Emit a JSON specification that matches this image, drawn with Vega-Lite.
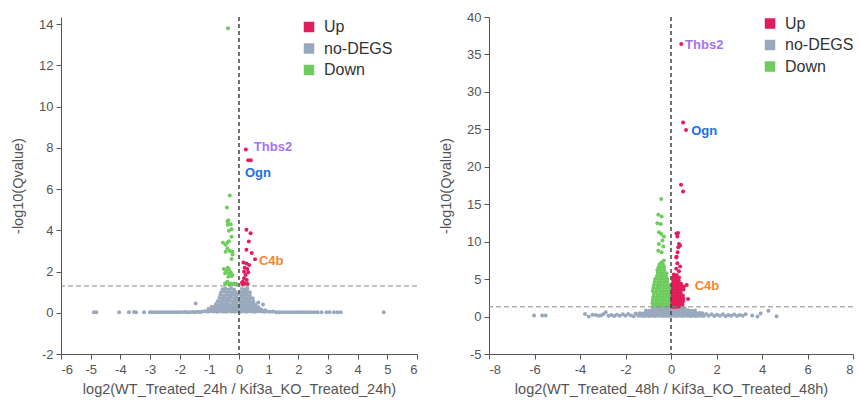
{
  "$schema": "https://vega.github.io/schema/vega-lite/v6.json",
  "padding": {"left": 10, "top": 11, "right": 0, "bottom": 6},
  "spacing": 20,
  "config": {
    "view": {"stroke": null},
    "font": "Liberation Sans",
    "axis": {"grid": false, "labelOverlap": false, "tickCount": 30, "labelExpr": "'' + datum.value", "domainColor": "#555", "tickColor": "#555", "labelColor": "#555", "titleColor": "#555", "labelFontSize": 13, "titleFontSize": 14.5, "titleFontWeight": "normal", "tickSize": 5, "labelFont": "Liberation Sans", "titleFont": "Liberation Sans"},
    "axisX": {"labelPadding": 4, "titlePadding": 6},
    "axisY": {"labelPadding": 3, "titlePadding": 13},
    "legend": {"labelFontSize": 16, "labelColor": "#333", "symbolType": "square", "symbolSize": 110, "labelOffset": 7, "rowPadding": 5.5, "padding": 0, "symbolStrokeWidth": 0, "symbolOpacity": 1, "labelFont": "Liberation Sans"}
  },
  "resolve": {"scale": {"color": "independent"}, "legend": {"color": "independent"}},
  "datasets": {
    "L": [
      {"x":-4.89,"y":0.02,"g":"no-DEGS"},{"x":-4.81,"y":0.02,"g":"no-DEGS"},{"x":-4.04,"y":0.02,"g":"no-DEGS"},{"x":-3.71,"y":0.02,"g":"no-DEGS"},{"x":-3.54,"y":0.04,"g":"no-DEGS"},{"x":-3.47,"y":0.03,"g":"no-DEGS"},{"x":-3.2,"y":0.02,"g":"no-DEGS"},{"x":-3.0,"y":0.02,"g":"no-DEGS"},{"x":-2.92,"y":0.03,"g":"no-DEGS"},{"x":-2.83,"y":0.02,"g":"no-DEGS"},{"x":-2.74,"y":0.03,"g":"no-DEGS"},{"x":-2.65,"y":0.02,"g":"no-DEGS"},{"x":-2.56,"y":0.03,"g":"no-DEGS"},{"x":-2.47,"y":0.02,"g":"no-DEGS"},{"x":-2.38,"y":0.03,"g":"no-DEGS"},{"x":-2.29,"y":0.02,"g":"no-DEGS"},{"x":-2.2,"y":0.03,"g":"no-DEGS"},{"x":-2.11,"y":0.02,"g":"no-DEGS"},{"x":-2.02,"y":0.03,"g":"no-DEGS"},{"x":-1.93,"y":0.02,"g":"no-DEGS"},{"x":-1.84,"y":0.04,"g":"no-DEGS"},{"x":-1.75,"y":0.03,"g":"no-DEGS"},{"x":-1.66,"y":0.02,"g":"no-DEGS"},{"x":-1.57,"y":0.04,"g":"no-DEGS"},{"x":-1.48,"y":0.03,"g":"no-DEGS"},{"x":-1.39,"y":0.05,"g":"no-DEGS"},{"x":-1.32,"y":0.04,"g":"no-DEGS"},{"x":-1.46,"y":0.45,"g":"no-DEGS"},{"x":-0.92,"y":0.29,"g":"no-DEGS"},{"x":-1.03,"y":0.18,"g":"no-DEGS"},
      {"x":1.25,"y":0.03,"g":"no-DEGS"},{"x":1.35,"y":0.02,"g":"no-DEGS"},{"x":1.45,"y":0.03,"g":"no-DEGS"},{"x":1.55,"y":0.02,"g":"no-DEGS"},{"x":1.65,"y":0.03,"g":"no-DEGS"},{"x":1.75,"y":0.02,"g":"no-DEGS"},{"x":1.85,"y":0.03,"g":"no-DEGS"},{"x":1.95,"y":0.02,"g":"no-DEGS"},{"x":2.05,"y":0.03,"g":"no-DEGS"},{"x":2.15,"y":0.02,"g":"no-DEGS"},{"x":2.25,"y":0.03,"g":"no-DEGS"},{"x":2.35,"y":0.02,"g":"no-DEGS"},{"x":2.45,"y":0.03,"g":"no-DEGS"},{"x":2.55,"y":0.02,"g":"no-DEGS"},{"x":2.65,"y":0.03,"g":"no-DEGS"},{"x":2.78,"y":0.02,"g":"no-DEGS"},{"x":2.95,"y":0.02,"g":"no-DEGS"},{"x":3.05,"y":0.02,"g":"no-DEGS"},{"x":3.2,"y":0.02,"g":"no-DEGS"},{"x":3.32,"y":0.02,"g":"no-DEGS"},{"x":3.43,"y":0.02,"g":"no-DEGS"},{"x":4.88,"y":0.02,"g":"no-DEGS"},{"x":0.65,"y":0.5,"g":"no-DEGS"},{"x":0.81,"y":0.4,"g":"no-DEGS"},
      {"x":-0.55,"y":1.14,"g":"no-DEGS"},{"x":-0.46,"y":1.18,"g":"no-DEGS"},{"x":-0.36,"y":1.12,"g":"no-DEGS"},{"x":-0.27,"y":1.17,"g":"no-DEGS"},{"x":-0.17,"y":1.13,"g":"no-DEGS"},
      {"x":-0.6,"y":0.99,"g":"no-DEGS"},{"x":-0.5,"y":1.03,"g":"no-DEGS"},{"x":-0.41,"y":0.98,"g":"no-DEGS"},{"x":-0.31,"y":1.02,"g":"no-DEGS"},{"x":-0.21,"y":0.97,"g":"no-DEGS"},{"x":-0.11,"y":1.01,"g":"no-DEGS"},
      {"x":-0.63,"y":0.86,"g":"no-DEGS"},{"x":-0.53,"y":0.83,"g":"no-DEGS"},{"x":-0.43,"y":0.87,"g":"no-DEGS"},{"x":-0.33,"y":0.84,"g":"no-DEGS"},{"x":-0.23,"y":0.88,"g":"no-DEGS"},{"x":-0.13,"y":0.83,"g":"no-DEGS"},{"x":-0.06,"y":0.9,"g":"no-DEGS"},
      {"x":-0.66,"y":0.71,"g":"no-DEGS"},{"x":-0.56,"y":0.68,"g":"no-DEGS"},{"x":-0.46,"y":0.72,"g":"no-DEGS"},{"x":-0.36,"y":0.69,"g":"no-DEGS"},{"x":-0.26,"y":0.73,"g":"no-DEGS"},{"x":-0.16,"y":0.68,"g":"no-DEGS"},{"x":-0.07,"y":0.72,"g":"no-DEGS"},
      {"x":-0.72,"y":0.56,"g":"no-DEGS"},{"x":-0.62,"y":0.53,"g":"no-DEGS"},{"x":-0.52,"y":0.57,"g":"no-DEGS"},{"x":-0.42,"y":0.54,"g":"no-DEGS"},{"x":-0.32,"y":0.58,"g":"no-DEGS"},{"x":-0.22,"y":0.53,"g":"no-DEGS"},{"x":-0.12,"y":0.57,"g":"no-DEGS"},{"x":-0.05,"y":0.54,"g":"no-DEGS"},
      {"x":-0.78,"y":0.41,"g":"no-DEGS"},{"x":-0.68,"y":0.38,"g":"no-DEGS"},{"x":-0.58,"y":0.42,"g":"no-DEGS"},{"x":-0.48,"y":0.39,"g":"no-DEGS"},{"x":-0.38,"y":0.43,"g":"no-DEGS"},{"x":-0.28,"y":0.38,"g":"no-DEGS"},{"x":-0.18,"y":0.42,"g":"no-DEGS"},{"x":-0.08,"y":0.39,"g":"no-DEGS"},
      {"x":-0.86,"y":0.27,"g":"no-DEGS"},{"x":-0.76,"y":0.25,"g":"no-DEGS"},{"x":-0.66,"y":0.29,"g":"no-DEGS"},{"x":-0.56,"y":0.26,"g":"no-DEGS"},{"x":-0.46,"y":0.28,"g":"no-DEGS"},{"x":-0.36,"y":0.25,"g":"no-DEGS"},{"x":-0.26,"y":0.29,"g":"no-DEGS"},{"x":-0.16,"y":0.26,"g":"no-DEGS"},{"x":-0.07,"y":0.28,"g":"no-DEGS"},
      {"x":-1.02,"y":0.14,"g":"no-DEGS"},{"x":-0.92,"y":0.16,"g":"no-DEGS"},{"x":-0.82,"y":0.13,"g":"no-DEGS"},{"x":-0.72,"y":0.17,"g":"no-DEGS"},{"x":-0.62,"y":0.14,"g":"no-DEGS"},{"x":-0.52,"y":0.16,"g":"no-DEGS"},{"x":-0.42,"y":0.13,"g":"no-DEGS"},{"x":-0.32,"y":0.17,"g":"no-DEGS"},{"x":-0.22,"y":0.14,"g":"no-DEGS"},{"x":-0.12,"y":0.16,"g":"no-DEGS"},{"x":-0.05,"y":0.13,"g":"no-DEGS"},
      {"x":-1.25,"y":0.05,"g":"no-DEGS"},{"x":-1.15,"y":0.07,"g":"no-DEGS"},{"x":-1.05,"y":0.05,"g":"no-DEGS"},{"x":-0.95,"y":0.07,"g":"no-DEGS"},{"x":-0.85,"y":0.06,"g":"no-DEGS"},{"x":-0.75,"y":0.05,"g":"no-DEGS"},{"x":-0.65,"y":0.07,"g":"no-DEGS"},{"x":-0.55,"y":0.06,"g":"no-DEGS"},{"x":-0.45,"y":0.05,"g":"no-DEGS"},{"x":-0.35,"y":0.07,"g":"no-DEGS"},{"x":-0.25,"y":0.06,"g":"no-DEGS"},{"x":-0.15,"y":0.05,"g":"no-DEGS"},{"x":-0.06,"y":0.07,"g":"no-DEGS"},
      {"x":0.1,"y":1.16,"g":"no-DEGS"},{"x":0.19,"y":1.13,"g":"no-DEGS"},{"x":0.28,"y":1.18,"g":"no-DEGS"},
      {"x":0.08,"y":1.01,"g":"no-DEGS"},{"x":0.17,"y":0.98,"g":"no-DEGS"},{"x":0.27,"y":1.03,"g":"no-DEGS"},{"x":0.37,"y":0.99,"g":"no-DEGS"},
      {"x":0.07,"y":0.86,"g":"no-DEGS"},{"x":0.16,"y":0.83,"g":"no-DEGS"},{"x":0.26,"y":0.87,"g":"no-DEGS"},{"x":0.36,"y":0.84,"g":"no-DEGS"},
      {"x":0.07,"y":0.71,"g":"no-DEGS"},{"x":0.17,"y":0.68,"g":"no-DEGS"},{"x":0.27,"y":0.72,"g":"no-DEGS"},{"x":0.37,"y":0.69,"g":"no-DEGS"},{"x":0.46,"y":0.7,"g":"no-DEGS"},
      {"x":0.06,"y":0.56,"g":"no-DEGS"},{"x":0.16,"y":0.53,"g":"no-DEGS"},{"x":0.26,"y":0.57,"g":"no-DEGS"},{"x":0.36,"y":0.54,"g":"no-DEGS"},{"x":0.48,"y":0.55,"g":"no-DEGS"},
      {"x":0.06,"y":0.41,"g":"no-DEGS"},{"x":0.16,"y":0.38,"g":"no-DEGS"},{"x":0.26,"y":0.42,"g":"no-DEGS"},{"x":0.36,"y":0.39,"g":"no-DEGS"},{"x":0.46,"y":0.42,"g":"no-DEGS"},{"x":0.56,"y":0.39,"g":"no-DEGS"},
      {"x":0.06,"y":0.27,"g":"no-DEGS"},{"x":0.16,"y":0.25,"g":"no-DEGS"},{"x":0.26,"y":0.29,"g":"no-DEGS"},{"x":0.36,"y":0.26,"g":"no-DEGS"},{"x":0.46,"y":0.28,"g":"no-DEGS"},{"x":0.56,"y":0.25,"g":"no-DEGS"},{"x":0.66,"y":0.27,"g":"no-DEGS"},
      {"x":0.06,"y":0.14,"g":"no-DEGS"},{"x":0.15,"y":0.16,"g":"no-DEGS"},{"x":0.25,"y":0.13,"g":"no-DEGS"},{"x":0.35,"y":0.17,"g":"no-DEGS"},{"x":0.45,"y":0.14,"g":"no-DEGS"},{"x":0.55,"y":0.16,"g":"no-DEGS"},{"x":0.65,"y":0.13,"g":"no-DEGS"},{"x":0.75,"y":0.15,"g":"no-DEGS"},{"x":0.88,"y":0.12,"g":"no-DEGS"},
      {"x":0.06,"y":0.05,"g":"no-DEGS"},{"x":0.15,"y":0.07,"g":"no-DEGS"},{"x":0.25,"y":0.05,"g":"no-DEGS"},{"x":0.35,"y":0.07,"g":"no-DEGS"},{"x":0.45,"y":0.06,"g":"no-DEGS"},{"x":0.55,"y":0.05,"g":"no-DEGS"},{"x":0.65,"y":0.07,"g":"no-DEGS"},{"x":0.75,"y":0.06,"g":"no-DEGS"},{"x":0.85,"y":0.05,"g":"no-DEGS"},{"x":0.95,"y":0.06,"g":"no-DEGS"},{"x":1.05,"y":0.05,"g":"no-DEGS"},{"x":1.15,"y":0.06,"g":"no-DEGS"},
      {"x":-0.37,"y":13.8,"g":"Down"},{"x":-0.31,"y":5.68,"g":"Down"},{"x":-0.41,"y":5.1,"g":"Down"},{"x":-0.36,"y":4.48,"g":"Down"},{"x":-0.39,"y":4.42,"g":"Down"},{"x":-0.28,"y":4.29,"g":"Down"},{"x":-0.38,"y":4.27,"g":"Down"},{"x":-0.25,"y":4.05,"g":"Down"},{"x":-0.34,"y":3.97,"g":"Down"},{"x":-0.25,"y":3.69,"g":"Down"},{"x":-0.54,"y":3.4,"g":"Down"},{"x":-0.45,"y":3.3,"g":"Down"},{"x":-0.38,"y":3.42,"g":"Down"},{"x":-0.34,"y":3.47,"g":"Down"},{"x":-0.39,"y":3.12,"g":"Down"},{"x":-0.31,"y":2.99,"g":"Down"},{"x":-0.22,"y":2.96,"g":"Down"},{"x":-0.45,"y":2.96,"g":"Down"},{"x":-0.22,"y":2.83,"g":"Down"},{"x":-0.25,"y":2.61,"g":"Down"},{"x":-0.51,"y":2.12,"g":"Down"},{"x":-0.43,"y":2.02,"g":"Down"},{"x":-0.34,"y":2.12,"g":"Down"},{"x":-0.38,"y":2.18,"g":"Down"},{"x":-0.28,"y":1.96,"g":"Down"},{"x":-0.47,"y":1.91,"g":"Down"},{"x":-0.34,"y":1.91,"g":"Down"},{"x":-0.22,"y":1.83,"g":"Down"},{"x":-0.36,"y":1.75,"g":"Down"},{"x":-0.25,"y":1.78,"g":"Down"},{"x":-0.39,"y":1.5,"g":"Down"},{"x":-0.28,"y":1.42,"g":"Down"},{"x":-0.17,"y":1.42,"g":"Down"},{"x":-0.47,"y":1.42,"g":"Down"},{"x":-0.09,"y":1.39,"g":"Down"},{"x":-0.33,"y":1.37,"g":"Down"},{"x":-0.45,"y":1.4,"g":"Down"},{"x":-0.11,"y":1.37,"g":"Down"},{"x":-0.22,"y":1.39,"g":"Down"},
      {"x":0.23,"y":7.91,"g":"Up"},{"x":0.31,"y":7.39,"g":"Up"},{"x":0.4,"y":7.39,"g":"Up"},{"x":0.25,"y":4.03,"g":"Up"},{"x":0.39,"y":3.85,"g":"Up"},{"x":0.33,"y":3.45,"g":"Up"},{"x":0.25,"y":3.05,"g":"Up"},{"x":0.43,"y":2.9,"g":"Up"},{"x":0.54,"y":2.6,"g":"Up"},{"x":0.15,"y":2.44,"g":"Up"},{"x":0.25,"y":2.39,"g":"Up"},{"x":0.34,"y":2.31,"g":"Up"},{"x":0.19,"y":2.18,"g":"Up"},{"x":0.28,"y":2.12,"g":"Up"},{"x":0.17,"y":1.99,"g":"Up"},{"x":0.31,"y":1.96,"g":"Up"},{"x":0.22,"y":1.83,"g":"Up"},{"x":0.17,"y":1.67,"g":"Up"},{"x":0.26,"y":1.59,"g":"Up"},{"x":0.13,"y":1.5,"g":"Up"},{"x":0.2,"y":1.42,"g":"Up"},{"x":0.13,"y":1.37,"g":"Up"},{"x":0.29,"y":1.4,"g":"Up"},{"x":0.1,"y":1.45,"g":"Up"}
    ],
    "Llab": [
      {"gene":"Thbs2","x":0.5,"y":8.05},{"gene":"Ogn","x":0.2,"y":6.8},{"gene":"C4b","x":0.67,"y":2.52}
    ],
    "R": [
      {"x":-6.02,"y":0.13,"g":"no-DEGS"},{"x":-5.66,"y":0.13,"g":"no-DEGS"},{"x":-5.51,"y":0.15,"g":"no-DEGS"},{"x":-3.78,"y":0.35,"g":"no-DEGS"},{"x":-3.62,"y":0.02,"g":"no-DEGS"},{"x":-3.45,"y":0.25,"g":"no-DEGS"},{"x":-3.31,"y":0.22,"g":"no-DEGS"},{"x":-3.18,"y":0.1,"g":"no-DEGS"},{"x":-3.08,"y":0.13,"g":"no-DEGS"},{"x":-2.98,"y":0.3,"g":"no-DEGS"},{"x":-2.87,"y":0.58,"g":"no-DEGS"},{"x":-2.75,"y":0.1,"g":"no-DEGS"},{"x":-2.62,"y":0.2,"g":"no-DEGS"},{"x":-2.5,"y":0.08,"g":"no-DEGS"},{"x":-2.38,"y":0.25,"g":"no-DEGS"},{"x":-2.25,"y":0.12,"g":"no-DEGS"},{"x":-2.12,"y":0.3,"g":"no-DEGS"},{"x":-2.0,"y":0.1,"g":"no-DEGS"},{"x":-1.88,"y":0.35,"g":"no-DEGS"},{"x":-1.76,"y":0.15,"g":"no-DEGS"},{"x":-1.64,"y":0.05,"g":"no-DEGS"},{"x":-1.55,"y":0.4,"g":"no-DEGS"},
      {"x":1.55,"y":0.35,"g":"no-DEGS"},{"x":1.65,"y":0.1,"g":"no-DEGS"},{"x":1.78,"y":0.3,"g":"no-DEGS"},{"x":1.9,"y":0.08,"g":"no-DEGS"},{"x":2.02,"y":0.25,"g":"no-DEGS"},{"x":2.15,"y":0.12,"g":"no-DEGS"},{"x":2.28,"y":0.3,"g":"no-DEGS"},{"x":2.4,"y":0.05,"g":"no-DEGS"},{"x":2.52,"y":0.22,"g":"no-DEGS"},{"x":2.65,"y":0.1,"g":"no-DEGS"},{"x":2.78,"y":0.28,"g":"no-DEGS"},{"x":2.9,"y":0.08,"g":"no-DEGS"},{"x":3.02,"y":0.2,"g":"no-DEGS"},{"x":3.15,"y":0.12,"g":"no-DEGS"},{"x":3.28,"y":0.3,"g":"no-DEGS"},{"x":3.57,"y":0.13,"g":"no-DEGS"},{"x":3.8,"y":0.0,"g":"no-DEGS"},{"x":3.94,"y":0.4,"g":"no-DEGS"},{"x":4.28,"y":0.78,"g":"no-DEGS"},{"x":4.64,"y":0.03,"g":"no-DEGS"},
      {"x":-1.44,"y":0.1,"g":"no-DEGS"},{"x":-1.32,"y":0.12,"g":"no-DEGS"},{"x":-1.2,"y":0.08,"g":"no-DEGS"},{"x":-1.08,"y":0.11,"g":"no-DEGS"},{"x":-0.96,"y":0.09,"g":"no-DEGS"},{"x":-0.84,"y":0.12,"g":"no-DEGS"},{"x":-0.72,"y":0.08,"g":"no-DEGS"},{"x":-0.6,"y":0.1,"g":"no-DEGS"},{"x":-0.48,"y":0.12,"g":"no-DEGS"},{"x":-0.36,"y":0.09,"g":"no-DEGS"},{"x":-0.24,"y":0.11,"g":"no-DEGS"},{"x":-0.12,"y":0.08,"g":"no-DEGS"},{"x":0.0,"y":0.1,"g":"no-DEGS"},{"x":0.12,"y":0.12,"g":"no-DEGS"},{"x":0.24,"y":0.09,"g":"no-DEGS"},{"x":0.36,"y":0.11,"g":"no-DEGS"},{"x":0.48,"y":0.08,"g":"no-DEGS"},{"x":0.6,"y":0.1,"g":"no-DEGS"},{"x":0.72,"y":0.12,"g":"no-DEGS"},{"x":0.84,"y":0.09,"g":"no-DEGS"},{"x":0.96,"y":0.11,"g":"no-DEGS"},{"x":1.08,"y":0.08,"g":"no-DEGS"},{"x":1.2,"y":0.1,"g":"no-DEGS"},{"x":1.32,"y":0.12,"g":"no-DEGS"},{"x":1.44,"y":0.09,"g":"no-DEGS"},
      {"x":-1.38,"y":0.45,"g":"no-DEGS"},{"x":-1.26,"y":0.42,"g":"no-DEGS"},{"x":-1.14,"y":0.47,"g":"no-DEGS"},{"x":-1.02,"y":0.44,"g":"no-DEGS"},{"x":-0.9,"y":0.46,"g":"no-DEGS"},{"x":-0.78,"y":0.43,"g":"no-DEGS"},{"x":-0.66,"y":0.47,"g":"no-DEGS"},{"x":-0.54,"y":0.44,"g":"no-DEGS"},{"x":-0.42,"y":0.46,"g":"no-DEGS"},{"x":-0.3,"y":0.43,"g":"no-DEGS"},{"x":-0.18,"y":0.47,"g":"no-DEGS"},{"x":-0.06,"y":0.44,"g":"no-DEGS"},{"x":0.06,"y":0.46,"g":"no-DEGS"},{"x":0.18,"y":0.43,"g":"no-DEGS"},{"x":0.3,"y":0.47,"g":"no-DEGS"},{"x":0.42,"y":0.44,"g":"no-DEGS"},{"x":0.54,"y":0.46,"g":"no-DEGS"},{"x":0.66,"y":0.43,"g":"no-DEGS"},{"x":0.78,"y":0.47,"g":"no-DEGS"},{"x":0.9,"y":0.44,"g":"no-DEGS"},{"x":1.02,"y":0.46,"g":"no-DEGS"},{"x":1.14,"y":0.43,"g":"no-DEGS"},{"x":1.26,"y":0.47,"g":"no-DEGS"},{"x":1.38,"y":0.44,"g":"no-DEGS"},
      {"x":-1.1,"y":0.8,"g":"no-DEGS"},{"x":-0.95,"y":0.78,"g":"no-DEGS"},{"x":-0.82,"y":0.83,"g":"no-DEGS"},{"x":-0.7,"y":0.79,"g":"no-DEGS"},{"x":-0.58,"y":0.82,"g":"no-DEGS"},{"x":-0.46,"y":0.78,"g":"no-DEGS"},{"x":-0.34,"y":0.83,"g":"no-DEGS"},{"x":-0.22,"y":0.79,"g":"no-DEGS"},{"x":-0.1,"y":0.82,"g":"no-DEGS"},{"x":0.02,"y":0.8,"g":"no-DEGS"},{"x":0.14,"y":0.78,"g":"no-DEGS"},{"x":0.26,"y":0.83,"g":"no-DEGS"},{"x":0.38,"y":0.79,"g":"no-DEGS"},{"x":0.5,"y":0.82,"g":"no-DEGS"},{"x":0.62,"y":0.78,"g":"no-DEGS"},{"x":0.75,"y":0.83,"g":"no-DEGS"},{"x":0.9,"y":0.79,"g":"no-DEGS"},{"x":1.05,"y":0.81,"g":"no-DEGS"},
      {"x":-0.8,"y":1.12,"g":"no-DEGS"},{"x":-0.66,"y":1.15,"g":"no-DEGS"},{"x":-0.52,"y":1.1,"g":"no-DEGS"},{"x":-0.38,"y":1.16,"g":"no-DEGS"},{"x":-0.24,"y":1.12,"g":"no-DEGS"},{"x":-0.1,"y":1.15,"g":"no-DEGS"},{"x":0.04,"y":1.11,"g":"no-DEGS"},{"x":0.18,"y":1.16,"g":"no-DEGS"},{"x":0.32,"y":1.12,"g":"no-DEGS"},{"x":0.46,"y":1.15,"g":"no-DEGS"},{"x":0.6,"y":1.1,"g":"no-DEGS"},
      {"x":-0.43,"y":15.7,"g":"Down"},{"x":-0.56,"y":13.6,"g":"Down"},{"x":-0.41,"y":13.35,"g":"Down"},{"x":-0.6,"y":12.46,"g":"Down"},{"x":-0.45,"y":12.37,"g":"Down"},{"x":-0.53,"y":11.26,"g":"Down"},{"x":-0.43,"y":11.04,"g":"Down"},{"x":-0.31,"y":10.68,"g":"Down"},{"x":-0.38,"y":10.15,"g":"Down"},{"x":-0.53,"y":9.7,"g":"Down"},{"x":-0.34,"y":9.35,"g":"Down"},{"x":-0.56,"y":8.8,"g":"Down"},{"x":-0.41,"y":8.58,"g":"Down"},{"x":-0.31,"y":7.48,"g":"Down"},{"x":-0.41,"y":7.25,"g":"Down"},
      {"x":-0.5,"y":7.0,"g":"Down"},{"x":-0.35,"y":6.95,"g":"Down"},
      {"x":-0.55,"y":6.6,"g":"Down"},{"x":-0.42,"y":6.55,"g":"Down"},{"x":-0.3,"y":6.62,"g":"Down"},
      {"x":-0.6,"y":6.2,"g":"Down"},{"x":-0.45,"y":6.16,"g":"Down"},{"x":-0.3,"y":6.22,"g":"Down"},
      {"x":-0.58,"y":5.8,"g":"Down"},{"x":-0.45,"y":5.76,"g":"Down"},{"x":-0.32,"y":5.82,"g":"Down"},{"x":-0.2,"y":5.78,"g":"Down"},
      {"x":-0.62,"y":5.4,"g":"Down"},{"x":-0.48,"y":5.36,"g":"Down"},{"x":-0.35,"y":5.42,"g":"Down"},{"x":-0.22,"y":5.38,"g":"Down"},
      {"x":-0.7,"y":5.0,"g":"Down"},{"x":-0.56,"y":4.96,"g":"Down"},{"x":-0.42,"y":5.02,"g":"Down"},{"x":-0.28,"y":4.98,"g":"Down"},{"x":-0.16,"y":5.03,"g":"Down"},
      {"x":-0.72,"y":4.6,"g":"Down"},{"x":-0.58,"y":4.56,"g":"Down"},{"x":-0.44,"y":4.62,"g":"Down"},{"x":-0.3,"y":4.58,"g":"Down"},{"x":-0.17,"y":4.63,"g":"Down"},
      {"x":-0.75,"y":4.2,"g":"Down"},{"x":-0.6,"y":4.16,"g":"Down"},{"x":-0.46,"y":4.22,"g":"Down"},{"x":-0.32,"y":4.18,"g":"Down"},{"x":-0.18,"y":4.22,"g":"Down"},{"x":-0.08,"y":4.17,"g":"Down"},
      {"x":-0.78,"y":3.8,"g":"Down"},{"x":-0.63,"y":3.76,"g":"Down"},{"x":-0.49,"y":3.82,"g":"Down"},{"x":-0.35,"y":3.78,"g":"Down"},{"x":-0.21,"y":3.82,"g":"Down"},{"x":-0.08,"y":3.77,"g":"Down"},
      {"x":-0.8,"y":3.4,"g":"Down"},{"x":-0.66,"y":3.36,"g":"Down"},{"x":-0.52,"y":3.42,"g":"Down"},{"x":-0.38,"y":3.38,"g":"Down"},{"x":-0.24,"y":3.42,"g":"Down"},{"x":-0.1,"y":3.37,"g":"Down"},
      {"x":-0.75,"y":3.0,"g":"Down"},{"x":-0.61,"y":2.96,"g":"Down"},{"x":-0.47,"y":3.02,"g":"Down"},{"x":-0.33,"y":2.98,"g":"Down"},{"x":-0.19,"y":3.02,"g":"Down"},{"x":-0.06,"y":2.97,"g":"Down"},
      {"x":-0.78,"y":2.6,"g":"Down"},{"x":-0.64,"y":2.56,"g":"Down"},{"x":-0.5,"y":2.62,"g":"Down"},{"x":-0.36,"y":2.58,"g":"Down"},{"x":-0.22,"y":2.62,"g":"Down"},{"x":-0.08,"y":2.57,"g":"Down"},
      {"x":-0.8,"y":2.2,"g":"Down"},{"x":-0.66,"y":2.16,"g":"Down"},{"x":-0.52,"y":2.22,"g":"Down"},{"x":-0.38,"y":2.18,"g":"Down"},{"x":-0.24,"y":2.22,"g":"Down"},{"x":-0.1,"y":2.17,"g":"Down"},
      {"x":-0.82,"y":1.8,"g":"Down"},{"x":-0.68,"y":1.76,"g":"Down"},{"x":-0.54,"y":1.82,"g":"Down"},{"x":-0.4,"y":1.78,"g":"Down"},{"x":-0.26,"y":1.82,"g":"Down"},{"x":-0.12,"y":1.77,"g":"Down"},{"x":-0.04,"y":1.83,"g":"Down"},
      {"x":-0.78,"y":1.45,"g":"Down"},{"x":-0.64,"y":1.42,"g":"Down"},{"x":-0.5,"y":1.47,"g":"Down"},{"x":-0.36,"y":1.43,"g":"Down"},{"x":-0.22,"y":1.46,"g":"Down"},{"x":-0.08,"y":1.42,"g":"Down"},
      {"x":0.45,"y":36.4,"g":"Up"},{"x":0.53,"y":25.9,"g":"Up"},{"x":0.66,"y":24.9,"g":"Up"},{"x":0.44,"y":17.6,"g":"Up"},{"x":0.53,"y":16.7,"g":"Up"},{"x":0.31,"y":11.17,"g":"Up"},{"x":0.24,"y":11.1,"g":"Up"},{"x":0.28,"y":10.68,"g":"Up"},{"x":0.35,"y":9.7,"g":"Up"},{"x":0.4,"y":9.5,"g":"Up"},{"x":0.32,"y":9.25,"g":"Up"},{"x":0.29,"y":8.59,"g":"Up"},{"x":0.25,"y":8.0,"g":"Up"},{"x":0.23,"y":7.9,"g":"Up"},{"x":0.28,"y":7.12,"g":"Up"},{"x":0.4,"y":6.68,"g":"Up"},{"x":0.23,"y":6.37,"g":"Up"},{"x":0.35,"y":6.05,"g":"Up"},{"x":0.69,"y":4.23,"g":"Up"},{"x":0.75,"y":2.36,"g":"Up"},
      {"x":0.12,"y":5.6,"g":"Up"},{"x":0.25,"y":5.55,"g":"Up"},
      {"x":0.1,"y":5.2,"g":"Up"},{"x":0.22,"y":5.16,"g":"Up"},{"x":0.35,"y":5.22,"g":"Up"},
      {"x":0.1,"y":4.8,"g":"Up"},{"x":0.22,"y":4.76,"g":"Up"},{"x":0.34,"y":4.82,"g":"Up"},
      {"x":0.08,"y":4.4,"g":"Up"},{"x":0.2,"y":4.36,"g":"Up"},{"x":0.32,"y":4.42,"g":"Up"},{"x":0.44,"y":4.38,"g":"Up"},
      {"x":0.08,"y":4.0,"g":"Up"},{"x":0.2,"y":3.96,"g":"Up"},{"x":0.32,"y":4.02,"g":"Up"},{"x":0.44,"y":3.98,"g":"Up"},{"x":0.56,"y":4.02,"g":"Up"},
      {"x":0.07,"y":3.6,"g":"Up"},{"x":0.19,"y":3.56,"g":"Up"},{"x":0.31,"y":3.62,"g":"Up"},{"x":0.43,"y":3.58,"g":"Up"},{"x":0.55,"y":3.62,"g":"Up"},
      {"x":0.07,"y":3.2,"g":"Up"},{"x":0.19,"y":3.16,"g":"Up"},{"x":0.31,"y":3.22,"g":"Up"},{"x":0.43,"y":3.18,"g":"Up"},
      {"x":0.06,"y":2.8,"g":"Up"},{"x":0.18,"y":2.76,"g":"Up"},{"x":0.3,"y":2.82,"g":"Up"},{"x":0.42,"y":2.78,"g":"Up"},{"x":0.52,"y":2.82,"g":"Up"},
      {"x":0.06,"y":2.4,"g":"Up"},{"x":0.18,"y":2.36,"g":"Up"},{"x":0.3,"y":2.42,"g":"Up"},{"x":0.42,"y":2.38,"g":"Up"},{"x":0.54,"y":2.42,"g":"Up"},
      {"x":0.05,"y":2.0,"g":"Up"},{"x":0.17,"y":1.96,"g":"Up"},{"x":0.29,"y":2.02,"g":"Up"},{"x":0.41,"y":1.98,"g":"Up"},{"x":0.53,"y":2.02,"g":"Up"},
      {"x":0.05,"y":1.6,"g":"Up"},{"x":0.17,"y":1.56,"g":"Up"},{"x":0.29,"y":1.62,"g":"Up"},{"x":0.41,"y":1.58,"g":"Up"},{"x":0.5,"y":1.62,"g":"Up"},
      {"x":0.05,"y":1.3,"g":"Up"},{"x":0.15,"y":1.32,"g":"Up"},{"x":0.25,"y":1.3,"g":"Up"},{"x":0.35,"y":1.33,"g":"Up"}
    ],
    "Rlab": [
      {"gene":"Thbs2","x":0.62,"y":36.3},{"gene":"Ogn","x":0.89,"y":24.8},{"gene":"C4b","x":1.04,"y":4.14}
    ]
  },
  "hconcat": [
    {
      "width": 356,
      "height": 337,
      "layer": [
        {
          "data": {"name": "L"},
          "mark": {"type": "circle", "size": 16, "opacity": 1},
          "encoding": {
            "x": {"field": "x", "type": "quantitative", "scale": {"domain": [-6, 6], "nice": false}, "axis": {"labelOverlap": false, "tickCount": 30, "labelExpr": "'' + datum.value", "values": [-6,-5,-4,-3,-2,-1,0,1,2,3,4,5,6], "title": "log2(WT_Treated_24h / Kif3a_KO_Treated_24h)"}},
            "y": {"field": "y", "type": "quantitative", "scale": {"domain": [-2, 14.34], "nice": false}, "axis": {"labelOverlap": false, "tickCount": 30, "labelExpr": "'' + datum.value", "values": [-2,0,2,4,6,8,10,12,14], "title": "-log10(Qvalue)"}},
            "color": {"field": "g", "type": "nominal", "scale": {"domain": ["Up", "no-DEGS", "Down"], "range": ["#e31c5b", "#99a9bd", "#6dcc5d"]}, "legend": {"title": null, "orient": "none", "legendX": 240, "legendY": 2}}
          }
        },
        {
          "data": {"values": [{}]},
          "mark": {"type": "rule", "strokeDash": [4, 3], "color": "#444", "strokeWidth": 1.5},
          "encoding": {"x": {"datum": 0}}
        },
        {
          "data": {"values": [{}]},
          "mark": {"type": "rule", "strokeDash": [5, 3], "color": "#888", "strokeWidth": 1},
          "encoding": {"y": {"datum": 1.3}}
        },
        {
          "data": {"name": "Llab"},
          "mark": {"type": "text", "align": "left", "baseline": "middle", "fontWeight": "bold", "fontSize": 13, "font": "Liberation Sans"},
          "encoding": {
            "x": {"field": "x", "type": "quantitative"},
            "y": {"field": "y", "type": "quantitative"},
            "text": {"field": "gene"},
            "color": {"condition": [{"test": "datum.gene === 'Thbs2'", "value": "#a173f7"}, {"test": "datum.gene === 'Ogn'", "value": "#1a6ff0"}], "value": "#f5862f"}
          }
        }
      ]
    },
    {
      "width": 364,
      "height": 337,
      "layer": [
        {
          "data": {"name": "R"},
          "mark": {"type": "circle", "size": 16, "opacity": 1},
          "encoding": {
            "x": {"field": "x", "type": "quantitative", "scale": {"domain": [-8, 8], "nice": false}, "axis": {"labelOverlap": false, "tickCount": 30, "labelExpr": "'' + datum.value", "values": [-8,-6,-4,-2,0,2,4,6,8], "title": "log2(WT_Treated_48h / Kif3a_KO_Treated_48h)"}},
            "y": {"field": "y", "type": "quantitative", "scale": {"domain": [-5, 40], "nice": false}, "axis": {"labelOverlap": false, "tickCount": 30, "labelExpr": "'' + datum.value", "values": [-5,0,5,10,15,20,25,30,35,40], "title": "-log10(Qvalue)"}},
            "color": {"field": "g", "type": "nominal", "scale": {"domain": ["Up", "no-DEGS", "Down"], "range": ["#e31c5b", "#99a9bd", "#6dcc5d"]}, "legend": {"title": null, "orient": "none", "legendX": 273, "legendY": -1.5}}
          }
        },
        {
          "data": {"values": [{}]},
          "mark": {"type": "rule", "strokeDash": [4, 3], "color": "#444", "strokeWidth": 1.5},
          "encoding": {"x": {"datum": 0}}
        },
        {
          "data": {"values": [{}]},
          "mark": {"type": "rule", "strokeDash": [5, 3], "color": "#888", "strokeWidth": 1},
          "encoding": {"y": {"datum": 1.3}}
        },
        {
          "data": {"name": "Rlab"},
          "mark": {"type": "text", "align": "left", "baseline": "middle", "fontWeight": "bold", "fontSize": 13, "font": "Liberation Sans"},
          "encoding": {
            "x": {"field": "x", "type": "quantitative"},
            "y": {"field": "y", "type": "quantitative"},
            "text": {"field": "gene"},
            "color": {"condition": [{"test": "datum.gene === 'Thbs2'", "value": "#a173f7"}, {"test": "datum.gene === 'Ogn'", "value": "#1a6ff0"}], "value": "#f5862f"}
          }
        }
      ]
    }
  ]
}
